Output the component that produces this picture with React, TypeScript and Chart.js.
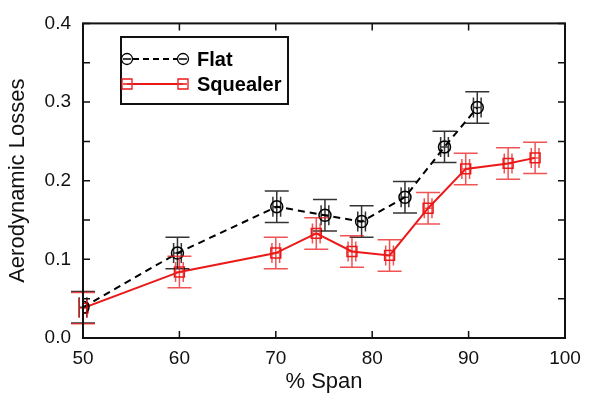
import React, { useEffect, useRef } from "react";
import { Chart, registerables } from "chart.js";

Chart.register(...registerables);

const flatSpan = [50, 59.8, 70.1, 75.1, 78.9, 83.4, 87.5, 90.9];
const flatLoss = [0.039, 0.108, 0.167, 0.156, 0.148, 0.179, 0.243, 0.293];
const flatErr = [0.02, 0.02, 0.02, 0.02, 0.02, 0.02, 0.02, 0.02];

const sqSpan = [50, 60, 70, 74.2, 77.9, 81.8, 85.8, 89.7, 94.1, 96.9];
const sqLoss = [0.038, 0.084, 0.108, 0.133, 0.11, 0.105, 0.165, 0.215, 0.222, 0.229];
const sqErr = [0.02, 0.02, 0.02, 0.02, 0.02, 0.02, 0.02, 0.02, 0.02, 0.02];

const spanErr = 0.4;
const xTicks = [50, 60, 70, 80, 90, 100];
const yTicks = [0, 0.05, 0.1, 0.15, 0.2, 0.25, 0.3, 0.35, 0.4];
const seriesNames = ["Flat", "Squealer"];

const RED = "rgb(235,25,25)";
const FONT = "'Liberation Sans', Arial, Helvetica, sans-serif";

const errPlugin = {
  id: "errbars",
  afterDatasetsDraw(chart: any) {
    const ctx = chart.ctx;
    const xs = chart.scales.x;
    const ys = chart.scales.y;
    const sets = [
      { x: flatSpan, y: flatLoss, e: flatErr, c: "rgba(0,0,0,0.8)" },
      { x: sqSpan, y: sqLoss, e: sqErr, c: "rgba(235,25,25,0.75)" },
    ];
    ctx.save();
    ctx.lineWidth = 1.5;
    for (const s of sets) {
      ctx.strokeStyle = s.c;
      for (let i = 0; i < s.x.length; i++) {
        const px = xs.getPixelForValue(s.x[i]);
        const py = ys.getPixelForValue(s.y[i]);
        const top = ys.getPixelForValue(s.y[i] + s.e[i]);
        const bot = ys.getPixelForValue(s.y[i] - s.e[i]);
        const xl = xs.getPixelForValue(s.x[i] - spanErr);
        const xr = xs.getPixelForValue(s.x[i] + spanErr);
        ctx.beginPath();
        ctx.moveTo(px, top);
        ctx.lineTo(px, bot);
        ctx.moveTo(px - 12, top);
        ctx.lineTo(px + 12, top);
        ctx.moveTo(px - 12, bot);
        ctx.lineTo(px + 12, bot);
        ctx.moveTo(xl, py);
        ctx.lineTo(xr, py);
        ctx.moveTo(xl, py - 10);
        ctx.lineTo(xl, py + 10);
        ctx.moveTo(xr, py - 10);
        ctx.lineTo(xr, py + 10);
        ctx.stroke();
      }
    }
    ctx.restore();
  },
};

const framePlugin = {
  id: "frame",
  afterDraw(chart: any) {
    const ctx = chart.ctx;
    const a = chart.chartArea;
    const xs = chart.scales.x;
    const ys = chart.scales.y;
    ctx.save();
    ctx.strokeStyle = "#111";
    ctx.lineWidth = 1.5;
    ctx.beginPath();
    for (const v of xTicks) {
      const px = xs.getPixelForValue(v);
      ctx.moveTo(px, a.bottom);
      ctx.lineTo(px, a.bottom - 7);
      ctx.moveTo(px, a.top);
      ctx.lineTo(px, a.top + 7);
    }
    for (const v of yTicks) {
      const py = ys.getPixelForValue(v);
      ctx.moveTo(a.left, py);
      ctx.lineTo(a.left + 7, py);
      ctx.moveTo(a.right, py);
      ctx.lineTo(a.right - 7, py);
    }
    ctx.stroke();
    ctx.lineWidth = 2;
    ctx.strokeRect(a.left, a.top, a.right - a.left, a.bottom - a.top);

    // legend
    ctx.lineWidth = 2;
    ctx.strokeStyle = "#111";
    ctx.strokeRect(121, 37, 167, 67);
    const rows = [
      { y: 59, color: "#000", dash: [6, 4], circle: true },
      { y: 84, color: RED, dash: [], circle: false },
    ];
    rows.forEach((r, i) => {
      ctx.strokeStyle = r.color;
      ctx.lineWidth = 1.8;
      ctx.setLineDash(r.dash);
      ctx.beginPath();
      ctx.moveTo(133, r.y);
      ctx.lineTo(177, r.y);
      ctx.stroke();
      ctx.setLineDash([]);
      ctx.lineWidth = 1.3;
      for (const cx of [127, 183]) {
        ctx.beginPath();
        if (r.circle) {
          ctx.arc(cx, r.y, 5.5, 0, Math.PI * 2);
        } else {
          ctx.rect(cx - 5, r.y - 5, 10, 10);
        }
        ctx.moveTo(cx - 4, r.y);
        ctx.lineTo(cx + 4, r.y);
        ctx.stroke();
      }
      if (!r.circle) {
        ctx.beginPath();
        ctx.moveTo(127, r.y);
        ctx.lineTo(183, r.y);
        ctx.stroke();
      }
      ctx.fillStyle = "#000";
      ctx.font = `bold 20px ${FONT}`;
      ctx.textBaseline = "middle";
      ctx.textAlign = "left";
      ctx.fillText(seriesNames[i], 197, r.y + 1);
    });
    ctx.restore();
  },
};

export default function App() {
  const ref = useRef<HTMLCanvasElement | null>(null);
  useEffect(() => {
    if (!ref.current) return;
    const chart = new Chart(ref.current, {
      type: "scatter",
      data: {
        datasets: [
          {
            label: seriesNames[0],
            data: flatSpan.map((x, i) => ({ x, y: flatLoss[i] })),
            showLine: true,
            borderColor: "#000",
            borderWidth: 2,
            borderDash: [7, 5],
            pointStyle: "circle",
            pointRadius: 6,
            pointBorderWidth: 1.5,
            pointBorderColor: "#000",
            pointBackgroundColor: "rgba(0,0,0,0)",
          },
          {
            label: seriesNames[1],
            data: sqSpan.map((x, i) => ({ x, y: sqLoss[i] })),
            showLine: true,
            borderColor: RED,
            borderWidth: 2,
            pointStyle: "rect",
            pointRadius: 7,
            pointBorderWidth: 1.5,
            pointBorderColor: RED,
            pointBackgroundColor: "rgba(0,0,0,0)",
          },
        ],
      },
      options: {
        responsive: false,
        animation: false,
        layout: { padding: { left: 0, right: 25, top: 16, bottom: 0 } },
        plugins: { legend: { display: false }, tooltip: { enabled: false } },
        scales: {
          x: {
            type: "linear",
            min: 50,
            max: 100,
            afterBuildTicks: (s: any) => {
              s.ticks = xTicks.map((v) => ({ value: v }));
            },
            afterFit: (s: any) => {
              s.height = 57;
            },
            grid: { display: false, drawTicks: false },
            border: { display: false },
            ticks: {
              color: "#111",
              padding: 9,
              font: { size: 19, family: FONT },
              maxRotation: 0,
            },
            title: {
              display: true,
              text: "% Span",
              color: "#111",
              font: { size: 22, family: FONT },
              padding: { top: 0, bottom: 0 },
            },
          },
          y: {
            min: 0,
            max: 0.4,
            afterBuildTicks: (s: any) => {
              s.ticks = [0, 0.1, 0.2, 0.3, 0.4].map((v) => ({ value: v }));
            },
            afterFit: (s: any) => {
              s.width = 83;
            },
            grid: { display: false, drawTicks: false },
            border: { display: false },
            ticks: {
              color: "#111",
              padding: 12,
              font: { size: 19, family: FONT },
              callback: (v: any) => Number(v).toFixed(1),
            },
            title: {
              display: true,
              text: "Aerodynamic Losses",
              color: "#111",
              font: { size: 22, family: FONT },
              padding: { top: 5, bottom: 0 },
            },
          },
        },
      },
      plugins: [errPlugin, framePlugin],
    } as any);
    return () => chart.destroy();
  }, []);
  return (
    <div style={{ position: "fixed", left: 0, top: 0, width: 590, height: 395, background: "#fff" }}>
      <canvas ref={ref} width={590} height={395} style={{ display: "block" }} />
    </div>
  );
}
